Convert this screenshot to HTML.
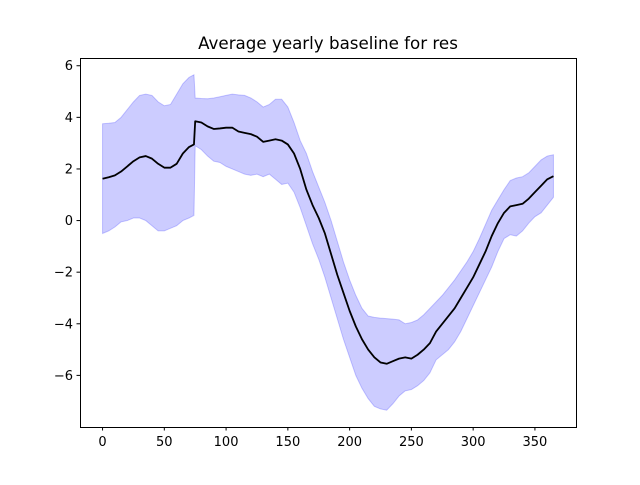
<!DOCTYPE html>
<html><head><meta charset="utf-8"><style>
body{margin:0;background:#fff}
text{font-family:"DejaVu Sans","Liberation Sans",sans-serif;fill:#000}
</style></head><body>
<svg id="chart" width="640" height="480" xmlns="http://www.w3.org/2000/svg">
<rect width="640" height="480" fill="#fff"/>
<text x="328" y="49" font-size="16.7" text-anchor="middle">Average yearly baseline for res</text>
<g id="plot"></g>
<rect x="80.5" y="58.5" width="496" height="369" fill="none" stroke="#000" stroke-width="1"/>
<g id="axes"></g>
</svg>
<script>
const days=[0,5,10,15,20,25,30,35,40,45,50,55,60,65,70,74,75,80,85,90,95,100,105,110,115,120,125,130,135,140,145,150,155,160,165,170,175,180,185,190,195,200,205,210,215,220,225,230,235,240,245,250,255,260,265,270,275,280,285,290,295,300,305,310,315,320,325,330,335,340,345,350,355,360,365];
const meanVals=[1.62,1.68,1.75,1.9,2.1,2.3,2.45,2.5,2.4,2.2,2.05,2.05,2.2,2.6,2.85,2.95,3.85,3.8,3.65,3.55,3.57,3.6,3.6,3.45,3.4,3.35,3.25,3.05,3.1,3.15,3.1,2.95,2.6,2.0,1.2,0.6,0.1,-0.5,-1.3,-2.1,-2.8,-3.5,-4.1,-4.6,-5.0,-5.3,-5.5,-5.55,-5.45,-5.35,-5.3,-5.35,-5.2,-5.0,-4.75,-4.3,-4.0,-3.7,-3.4,-3.0,-2.6,-2.2,-1.7,-1.2,-0.6,-0.1,0.3,0.55,0.6,0.65,0.85,1.1,1.35,1.6,1.72];
const upperVals=[3.75,3.77,3.8,4.0,4.3,4.6,4.85,4.9,4.85,4.6,4.45,4.5,4.9,5.3,5.55,5.65,4.75,4.73,4.72,4.75,4.8,4.85,4.9,4.87,4.85,4.75,4.6,4.4,4.5,4.7,4.7,4.4,3.8,3.1,2.6,1.9,1.3,0.7,0.0,-0.8,-1.6,-2.3,-2.9,-3.4,-3.7,-3.75,-3.78,-3.8,-3.82,-3.85,-4.0,-3.95,-3.85,-3.65,-3.4,-3.15,-2.9,-2.6,-2.3,-1.95,-1.6,-1.2,-0.7,-0.15,0.4,0.8,1.2,1.55,1.65,1.7,1.85,2.1,2.35,2.5,2.55];
const lowerVals=[-0.5,-0.4,-0.25,-0.05,0.0,0.1,0.1,0.0,-0.2,-0.4,-0.4,-0.3,-0.2,0.0,0.1,0.2,2.9,2.75,2.5,2.3,2.25,2.1,2.0,1.9,1.8,1.75,1.8,1.7,1.8,1.6,1.4,1.45,1.1,0.5,-0.2,-0.9,-1.5,-2.2,-3.0,-3.8,-4.6,-5.3,-6.0,-6.5,-6.9,-7.2,-7.3,-7.35,-7.1,-6.8,-6.6,-6.55,-6.4,-6.2,-5.9,-5.4,-5.2,-5.0,-4.7,-4.3,-3.8,-3.3,-2.8,-2.3,-1.8,-1.2,-0.7,-0.55,-0.6,-0.4,-0.1,0.15,0.3,0.6,0.9];
const xTicks=[0,50,100,150,200,250,300,350];
const yTicks=[-6,-4,-2,0,2,4,6];

const X0=80,W=496,Y0=58,H=369;
const xmin=-18.25,xmax=383.25,ymin=-8.0,ymax=6.3;
const xs=v=>X0+(v-xmin)/(xmax-xmin)*W;
const ys=v=>Y0+(ymax-v)/(ymax-ymin)*H;
const NS="http://www.w3.org/2000/svg";
const plot=document.getElementById('plot'),axes=document.getElementById('axes');

let band=days.map((d,i)=>xs(d).toFixed(2)+','+ys(upperVals[i]).toFixed(2));
for(let i=days.length-1;i>=0;i--)band.push(xs(days[i]).toFixed(2)+','+ys(lowerVals[i]).toFixed(2));
const poly=document.createElementNS(NS,'polygon');
poly.setAttribute('points',band.join(' '));
poly.setAttribute('fill','rgba(0,0,255,0.2)');
poly.setAttribute('stroke','rgba(0,0,255,0.2)');


plot.appendChild(poly);

const line=document.createElementNS(NS,'polyline');
line.setAttribute('points',days.map((d,i)=>xs(d).toFixed(2)+','+ys(meanVals[i]).toFixed(2)).join(' '));
line.setAttribute('fill','none');line.setAttribute('stroke','#000');line.setAttribute('stroke-width','1.8');
line.setAttribute('stroke-linejoin','round');


plot.appendChild(line);

xTicks.forEach(t=>{
  const x=xs(t);
  const l=document.createElementNS(NS,'line');
  l.setAttribute('x1',x);l.setAttribute('x2',x);l.setAttribute('y1',427);l.setAttribute('y2',430.5);l.setAttribute('stroke','#000');
  
  
  axes.appendChild(l);
  const tx=document.createElementNS(NS,'text');
  tx.setAttribute('x',x);tx.setAttribute('y',446);tx.setAttribute('font-size','13');tx.setAttribute('text-anchor','middle');
  tx.textContent=t;
  
  
  axes.appendChild(tx);
});
yTicks.forEach(t=>{
  const y=ys(t);
  const l=document.createElementNS(NS,'line');
  l.setAttribute('x1',76.5);l.setAttribute('x2',80);l.setAttribute('y1',y);l.setAttribute('y2',y);l.setAttribute('stroke','#000');
  
  
  axes.appendChild(l);
  const tx=document.createElementNS(NS,'text');
  tx.setAttribute('x',73);tx.setAttribute('y',y+4.5);tx.setAttribute('font-size','13');tx.setAttribute('text-anchor','end');
  tx.textContent=t<0?'\u2212'+(-t):t;
  
  
  axes.appendChild(tx);
});
</script>
</body></html>
